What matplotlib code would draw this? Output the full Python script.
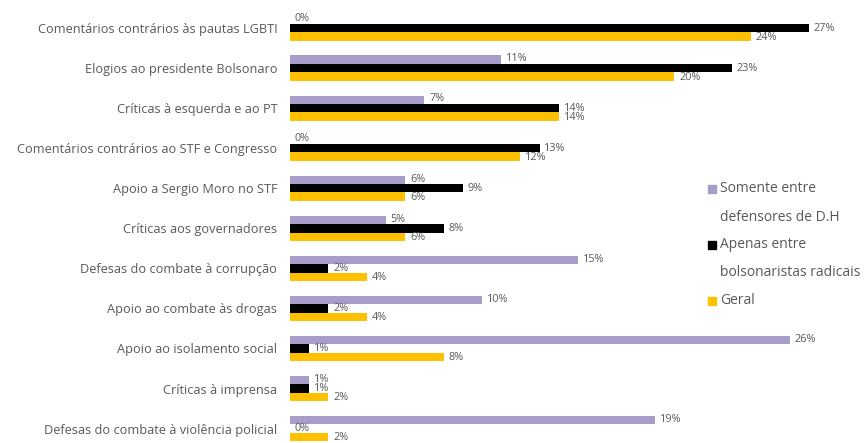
import matplotlib
matplotlib.use("Agg")
import matplotlib.pyplot as plt
from matplotlib.patches import Rectangle
import numpy as np

categories = [
    "Comentários contrários às pautas LGBTI",
    "Elogios ao presidente Bolsonaro",
    "Críticas à esquerda e ao PT",
    "Comentários contrários ao STF e Congresso",
    "Apoio a Sergio Moro no STF",
    "Críticas aos governadores",
    "Defesas do combate à corrupção",
    "Apoio ao combate às drogas",
    "Apoio ao isolamento social",
    "Críticas à imprensa",
    "Defesas do combate à violência policial",
]
series_names = [
    "Somente entre\ndefensores de D.H",
    "Apenas entre\nbolsonaristas radicais",
    "Geral",
]
defensores = [0, 11, 7, 0, 6, 5, 15, 10, 26, 1, 19]
bolsonaristas = [27, 23, 14, 13, 9, 8, 2, 2, 1, 1, 0]
geral = [24, 20, 14, 12, 6, 6, 4, 4, 8, 2, 2]

colors = ["#A89CC8", "#000000", "#FFC000"]
text_color = "#595959"

plt.rcParams["font.family"] = ["Open Sans", "DejaVu Sans"]

W, H = 865, 443
fig = plt.figure(figsize=(W / 100, H / 100), dpi=100)
ax = fig.add_axes([0.335, 0.0, 0.66, 1.0])

y = np.arange(len(categories))
h = 0.21
offsets = [-h, 0, h]
data = [defensores, bolsonaristas, geral]
for vals, off, col, name in zip(data, offsets, colors, series_names):
    ax.barh(y + off, vals, height=h, color=col, label=name, zorder=2)
    for yi, v in zip(y, vals):
        ax.text(v + 0.25, yi + off * 1.1, f"{v}%", va="center", ha="left",
                fontsize=7.8, color=text_color)

ax.set_xlim(0, 29.7)
ax.set_ylim(10.36, -0.70)
ax.set_yticks(y)
ax.set_yticklabels(categories, fontsize=9.2, color=text_color)
ax.tick_params(axis="y", length=0, pad=9)
ax.set_xticks([])
for s in ax.spines.values():
    s.set_visible(False)

# manual legend: marker aligned with first line of each entry
line_step = 28.0
first_line_y = 189.0
line_idx = 0
for name, col in zip(series_names, colors):
    ypx = first_line_y + line_idx * line_step
    fig.patches.append(Rectangle((708 / W, 1 - (ypx + 4) / H), 8 / W, 8 / H,
                                 transform=fig.transFigure, color=col,
                                 figure=fig))
    for line in name.split("\n"):
        lypx = first_line_y + line_idx * line_step
        fig.text(720 / W, 1 - lypx / H, line, fontsize=10, color=text_color,
                 va="center", ha="left")
        line_idx += 1

fig.savefig("out.png", dpi=100)
